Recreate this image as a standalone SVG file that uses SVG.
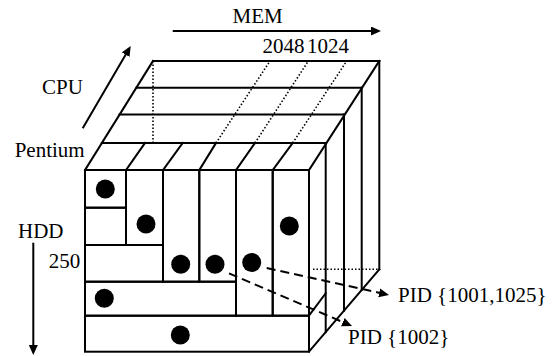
<svg xmlns="http://www.w3.org/2000/svg" width="559" height="356" viewBox="0 0 559 356">
<defs>
<style>
.ln{stroke:#000;stroke-width:2;fill:none;stroke-linecap:square}
.cell{stroke:#000;stroke-width:2;fill:none}
.dot{fill:#000}
.dt{stroke:#000;stroke-width:1.6;fill:none;stroke-dasharray:1.5 2}
.ds{stroke:#000;stroke-width:2;fill:none;stroke-dasharray:9 5}
.ax{stroke:#000;stroke-width:2;fill:none}
.lbl{font-family:'Liberation Serif','Times New Roman',serif;font-size:21px;fill:#000}
</style>
<marker id="ah" markerUnits="userSpaceOnUse" markerWidth="11" markerHeight="10" refX="0.5" refY="4.5" orient="auto" viewBox="0 0 11 10">
<path d="M0,0 L10,4.5 L0,9 z" fill="#000"/>
</marker>
</defs>
<rect width="559" height="356" fill="#fff"/>
<g id="cube">
<g id="top-face">
<line class="ln" x1="153" y1="61" x2="379.3" y2="61"/>
<line class="ln" x1="136.4" y1="87.7" x2="361.7" y2="87.7"/>
<line class="ln" x1="119.6" y1="114.5" x2="344" y2="114.5"/>
<line class="ln" x1="101.8" y1="143" x2="325.7" y2="143"/>
<line class="ln" x1="85" y1="170" x2="153" y2="61"/>
<line class="ln" x1="309" y1="170" x2="379.3" y2="61"/>
<line class="ln" x1="126" y1="170" x2="145" y2="143"/>
<line class="ln" x1="163" y1="170" x2="182.7" y2="143"/>
<line class="ln" x1="199.3" y1="170" x2="216" y2="143"/>
<line class="ln" x1="236" y1="170" x2="255" y2="143"/>
<line class="ln" x1="272.7" y1="170" x2="292.7" y2="143"/>
<line class="dt" x1="153" y1="61" x2="153" y2="143"/>
<line class="dt" x1="216" y1="143" x2="270" y2="61"/>
<line class="dt" x1="255" y1="143" x2="308.3" y2="61"/>
<line class="dt" x1="292.7" y1="143" x2="346.7" y2="61"/>
</g>
<g id="right-face">
<line class="ln" x1="325.7" y1="143" x2="325.7" y2="332.1"/>
<line class="ln" x1="344" y1="114.5" x2="344" y2="310.7"/>
<line class="ln" x1="361.7" y1="87.7" x2="361.7" y2="289.9"/>
<line class="ln" x1="379.3" y1="61" x2="379.3" y2="269.3"/>
<line class="ln" x1="309" y1="351.7" x2="379.3" y2="269.3"/>
<line class="ln" x1="309" y1="315.7" x2="325.7" y2="293.3"/>
<line class="dt" x1="313" y1="269.3" x2="379.3" y2="269.3"/>
</g>
</g>
<g id="cell-a"><rect class="cell" x="85" y="170" width="41" height="37.7"/><circle class="dot" cx="105.3" cy="189" r="9.5"/></g>
<g id="cell-b"><rect class="cell" x="85" y="207.7" width="41" height="37.3"/></g>
<g id="cell-c"><rect class="cell" x="126" y="170" width="37" height="75"/><circle class="dot" cx="146" cy="224" r="9.5"/></g>
<g id="cell-d"><rect class="cell" x="85" y="245" width="78" height="36.7"/></g>
<g id="cell-e"><rect class="cell" x="163" y="170" width="36.3" height="111.7"/><circle class="dot" cx="180.7" cy="264.3" r="9.5"/></g>
<g id="cell-f"><rect class="cell" x="199.3" y="170" width="36.7" height="111.7"/><circle class="dot" cx="215" cy="264.3" r="9.5"/></g>
<g id="cell-g"><rect class="cell" x="236" y="170" width="36.7" height="145.7"/><circle class="dot" cx="251.7" cy="262.5" r="9.5"/></g>
<g id="cell-h"><rect class="cell" x="272.7" y="170" width="36.3" height="145.7"/><circle class="dot" cx="289.3" cy="226" r="9.5"/></g>
<g id="cell-i"><rect class="cell" x="85" y="281.7" width="151" height="34"/><circle class="dot" cx="104.3" cy="298.3" r="9.5"/></g>
<g id="cell-j"><rect class="cell" x="85" y="315.7" width="224" height="36"/><circle class="dot" cx="180.3" cy="335" r="9.5"/></g>
<g id="connectors">
<line class="ax" x1="172.7" y1="31" x2="371.5" y2="31" marker-end="url(#ah)"/>
<line class="ax" x1="82.7" y1="128.3" x2="125.9" y2="54.2" marker-end="url(#ah)"/>
<line class="ax" x1="33.3" y1="242.7" x2="33.3" y2="345.5" marker-end="url(#ah)"/>
<line class="ds" x1="266.7" y1="268" x2="379.7" y2="292.9" marker-end="url(#ah)"/>
<line class="ds" x1="229" y1="273.3" x2="343.3" y2="322.3" marker-end="url(#ah)"/>
</g>
<g id="labels" font-family="'Liberation Serif', 'Times New Roman', serif" font-size="21">
<text class="lbl" x="232.5" y="23">MEM</text>
<text class="lbl" x="262.5" y="53">2048</text>
<text class="lbl" x="307" y="53">1024</text>
<text class="lbl" x="42" y="94">CPU</text>
<text class="lbl" x="14.7" y="157">Pentium</text>
<text class="lbl" x="18" y="237.5">HDD</text>
<text class="lbl" x="48.7" y="268">250</text>
<text class="lbl" x="398" y="302">PID {1001,1025}</text>
<text class="lbl" x="348" y="343.5">PID {1002}</text>
</g>
</svg>
